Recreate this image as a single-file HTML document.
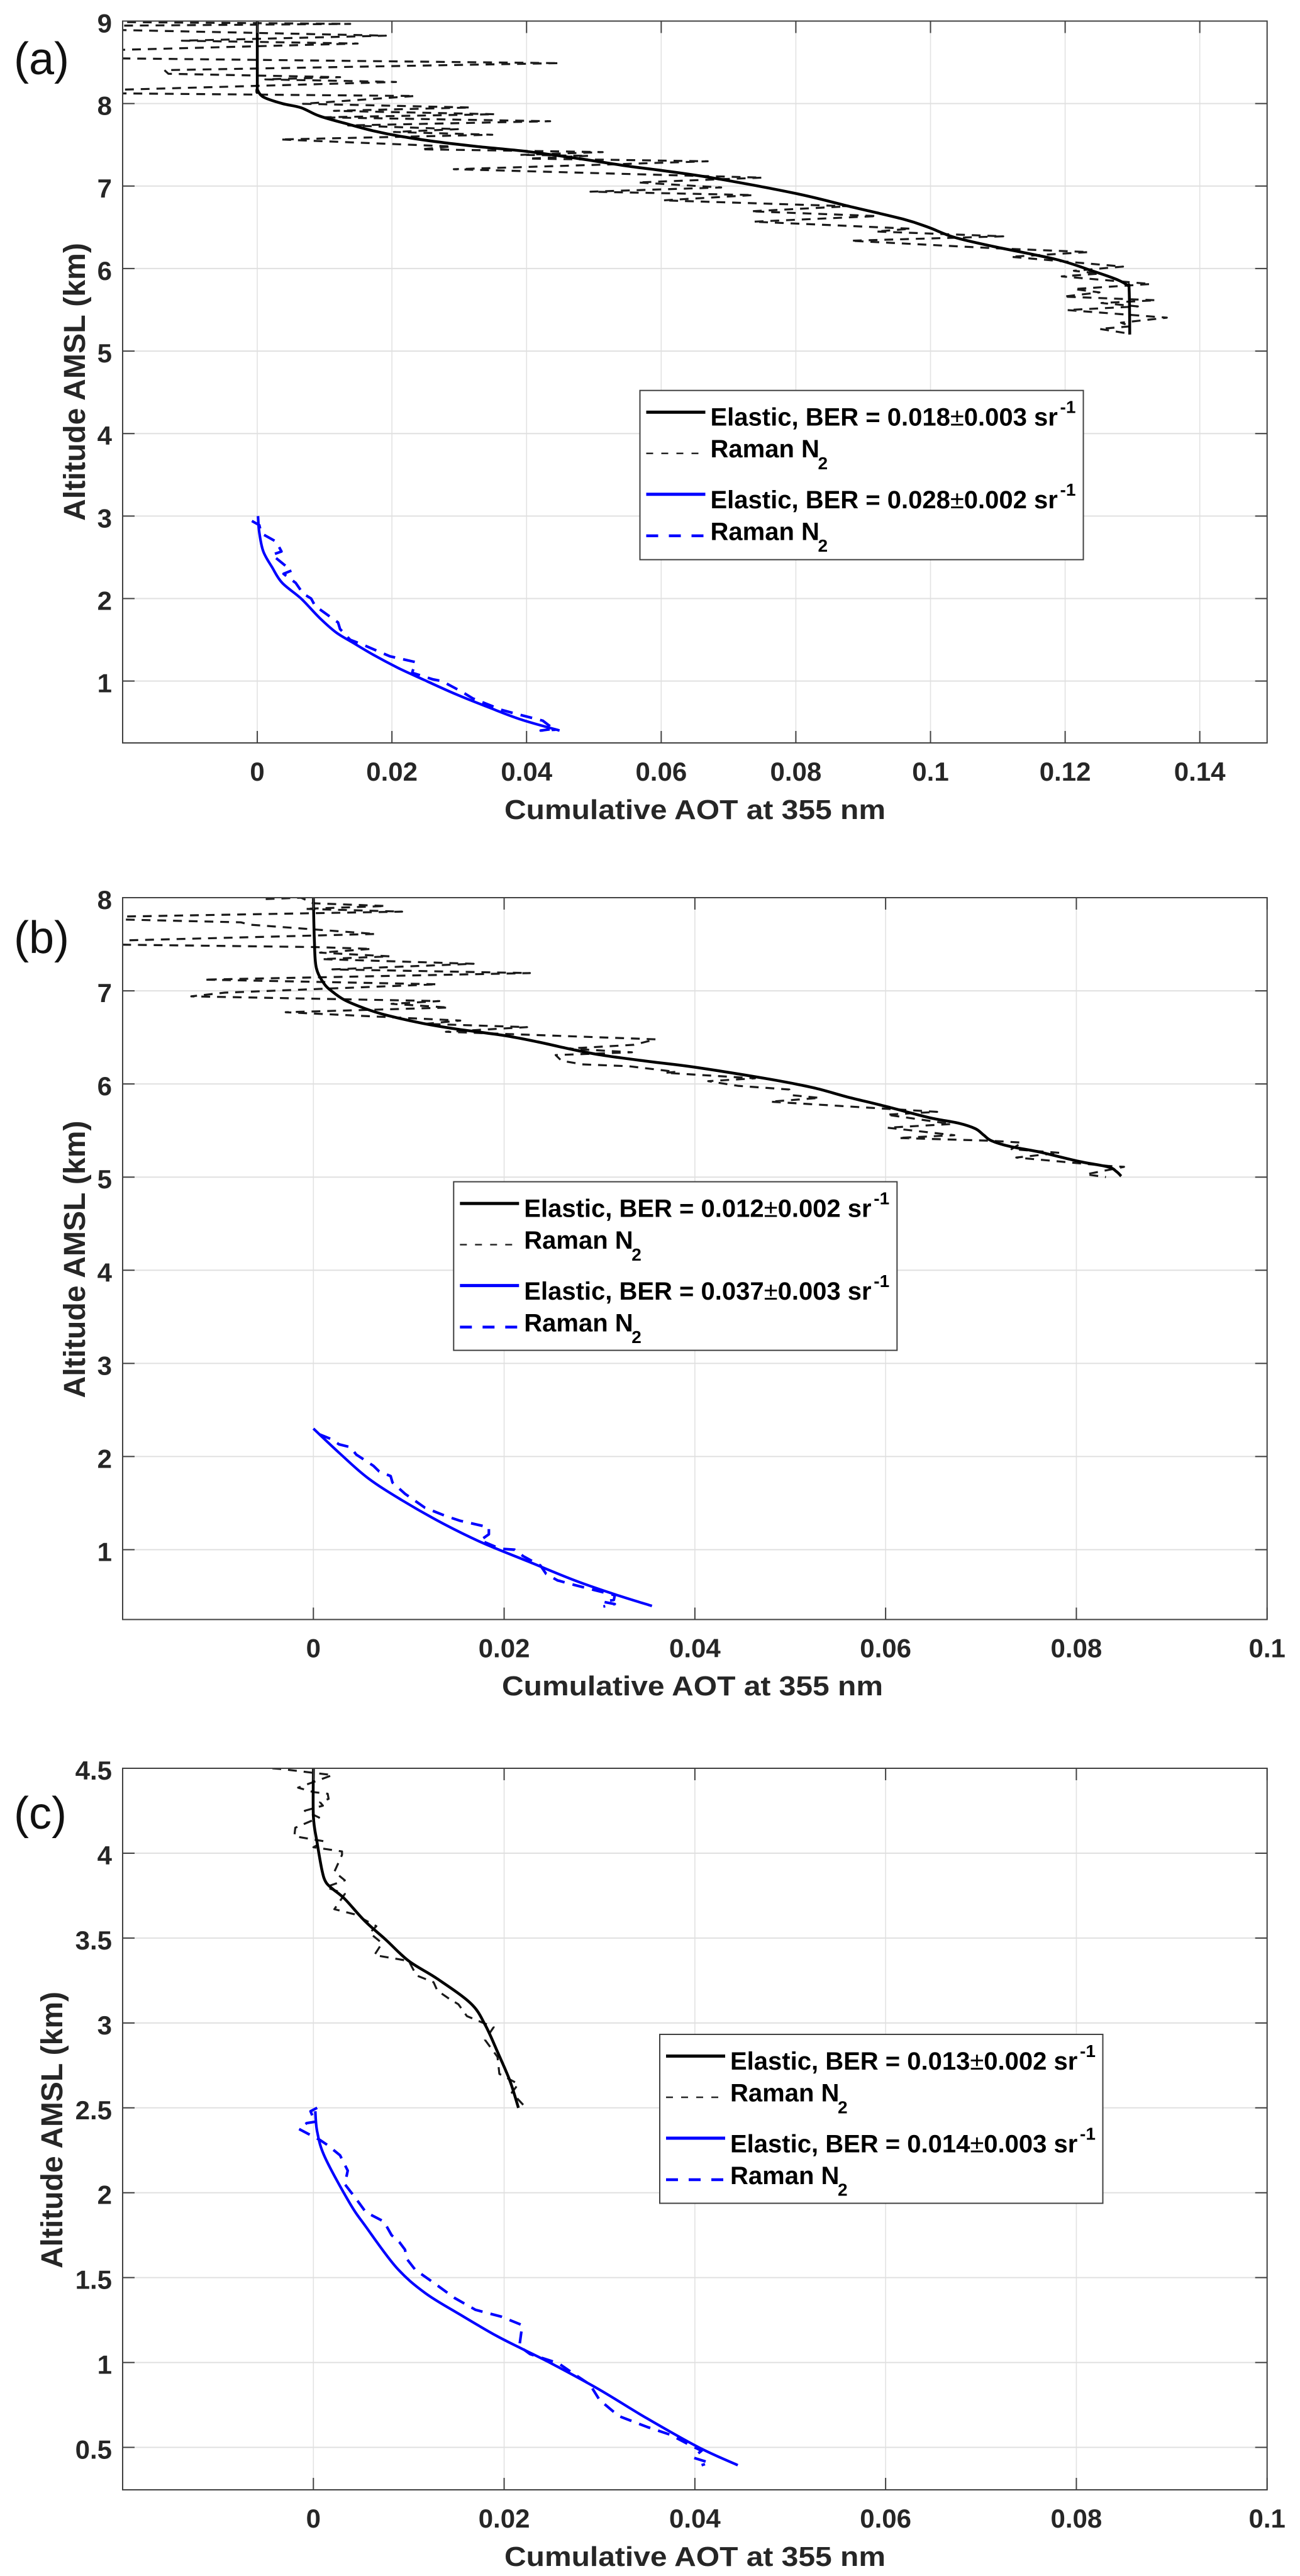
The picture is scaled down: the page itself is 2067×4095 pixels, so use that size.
<!DOCTYPE html>
<html lang="en">
<head>
<meta charset="utf-8">
<title>Cumulative AOT at 355 nm profiles</title>
<style>
html,body{margin:0;padding:0;background:#fff;}
svg{display:block;font-family:"Liberation Sans",Arial,sans-serif;}
.lg{font-size:40px;font-weight:700;fill:#000;}
.sub{font-size:28px;font-weight:700;fill:#000;}
.pm{font-weight:400;}
.xl{font-size:44px;font-weight:700;fill:#262626;}
.yl{font-size:48px;font-weight:700;fill:#262626;}
.pl{font-size:72px;font-weight:400;fill:#111;}
.tk{font-size:42px;font-weight:700;fill:#262626;}
</style>
</head>
<body>
<svg id="figure" xmlns="http://www.w3.org/2000/svg" width="2067" height="4095" viewBox="0 0 2067 4095">
<rect width="2067" height="4095" fill="#fff"/>
<defs>
<clipPath id="clip-a"><rect x="195" y="33.5" width="1820" height="1147.5"/></clipPath>
<clipPath id="clip-b"><rect x="195" y="1427" width="1820" height="1147.5"/></clipPath>
<clipPath id="clip-c"><rect x="195" y="2811" width="1820" height="1147"/></clipPath>
</defs>

<g id="panel-a">
<g id="layer-a"></g>
<text class="pl" x="22" y="118">(a)</text>
<text class="xl" x="1105" y="1302" text-anchor="middle" textLength="606" lengthAdjust="spacingAndGlyphs">Cumulative AOT at 355 nm</text>
<text class="yl" transform="translate(135,607) rotate(-90)" text-anchor="middle" textLength="442" lengthAdjust="spacingAndGlyphs">Altitude AMSL (km)</text>
<g transform="translate(1017.5,620.7)">
<rect x="0" y="0" width="705" height="269" fill="#fff" stroke="#404040" stroke-width="2"/>
<line x1="10" x2="104" y1="34.5" y2="34.5" stroke="#000" stroke-width="5"/>
<text class="lg" x="112" y="56">Elastic, BER = 0.018<tspan class="pm">±</tspan>0.003 sr</text>
<text class="sub" x="668" y="36">-1</text>
<line x1="10" x2="98" y1="100" y2="100" stroke="#262626" stroke-width="2.5" stroke-dasharray="11 13"/>
<text class="lg" x="112" y="106.5">Raman N</text>
<text class="sub" x="283" y="125.5">2</text>
<line x1="10" x2="104" y1="165" y2="165" stroke="#0000ff" stroke-width="5"/>
<text class="lg" x="112" y="187.5">Elastic, BER = 0.028<tspan class="pm">±</tspan>0.002 sr</text>
<text class="sub" x="668" y="167.5">-1</text>
<line x1="10" x2="102" y1="231" y2="231" stroke="#0000ff" stroke-width="4.5" stroke-dasharray="19 17"/>
<text class="lg" x="112" y="238">Raman N</text>
<text class="sub" x="283" y="256.5">2</text>
</g>
</g>

<g id="panel-b">
<g id="layer-b"></g>
<text class="pl" x="22" y="1515">(b)</text>
<text class="xl" x="1101" y="2695" text-anchor="middle" textLength="606" lengthAdjust="spacingAndGlyphs">Cumulative AOT at 355 nm</text>
<text class="yl" transform="translate(135,2002) rotate(-90)" text-anchor="middle" textLength="441" lengthAdjust="spacingAndGlyphs">Altitude AMSL (km)</text>
<g transform="translate(721.3,1878.6)">
<rect x="0" y="0" width="705" height="268" fill="#fff" stroke="#404040" stroke-width="2"/>
<line x1="10" x2="104" y1="34.5" y2="34.5" stroke="#000" stroke-width="5"/>
<text class="lg" x="112" y="56">Elastic, BER = 0.012<tspan class="pm">±</tspan>0.002 sr</text>
<text class="sub" x="668" y="36">-1</text>
<line x1="10" x2="98" y1="100" y2="100" stroke="#262626" stroke-width="2.5" stroke-dasharray="11 13"/>
<text class="lg" x="112" y="106.5">Raman N</text>
<text class="sub" x="283" y="125.5">2</text>
<line x1="10" x2="104" y1="165" y2="165" stroke="#0000ff" stroke-width="5"/>
<text class="lg" x="112" y="187.5">Elastic, BER = 0.037<tspan class="pm">±</tspan>0.003 sr</text>
<text class="sub" x="668" y="167.5">-1</text>
<line x1="10" x2="102" y1="231" y2="231" stroke="#0000ff" stroke-width="4.5" stroke-dasharray="19 17"/>
<text class="lg" x="112" y="238">Raman N</text>
<text class="sub" x="283" y="256.5">2</text>
</g>
</g>

<g id="panel-c">
<g id="layer-c"></g>
<text class="pl" x="22" y="2907">(c)</text>
<text class="xl" x="1105" y="4079" text-anchor="middle" textLength="606" lengthAdjust="spacingAndGlyphs">Cumulative AOT at 355 nm</text>
<text class="yl" transform="translate(99,3386) rotate(-90)" text-anchor="middle" textLength="440" lengthAdjust="spacingAndGlyphs">Altitude AMSL (km)</text>
<g transform="translate(1049,3234)">
<rect x="0" y="0" width="704.5" height="268.5" fill="#fff" stroke="#404040" stroke-width="2"/>
<line x1="10" x2="104" y1="34.5" y2="34.5" stroke="#000" stroke-width="5"/>
<text class="lg" x="112" y="56">Elastic, BER = 0.013<tspan class="pm">±</tspan>0.002 sr</text>
<text class="sub" x="668" y="36">-1</text>
<line x1="10" x2="98" y1="100" y2="100" stroke="#262626" stroke-width="2.5" stroke-dasharray="11 13"/>
<text class="lg" x="112" y="106.5">Raman N</text>
<text class="sub" x="283" y="125.5">2</text>
<line x1="10" x2="104" y1="165" y2="165" stroke="#0000ff" stroke-width="5"/>
<text class="lg" x="112" y="187.5">Elastic, BER = 0.014<tspan class="pm">±</tspan>0.003 sr</text>
<text class="sub" x="668" y="167.5">-1</text>
<line x1="10" x2="102" y1="231" y2="231" stroke="#0000ff" stroke-width="4.5" stroke-dasharray="19 17"/>
<text class="lg" x="112" y="238">Raman N</text>
<text class="sub" x="283" y="256.5">2</text>
</g>
</g>
</svg>

<script>
// Tick labels
const aXTicks = ["0","0.02","0.04","0.06","0.08","0.1","0.12","0.14"];
const aYTicks = ["1","2","3","4","5","6","7","8","9"];
const bXTicks = ["0","0.02","0.04","0.06","0.08","0.1"];
const bYTicks = ["1","2","3","4","5","6","7","8"];
const cXTicks = ["0","0.02","0.04","0.06","0.08","0.1"];
const cYTicks = ["0.5","1","1.5","2","2.5","3","3.5","4","4.5"];

// Panel (a) series: [cumulative AOT, altitude km]
const aElasticBlack = [[0,9],[0,8.2],[0,8.17],[.0009,8.08],[.0037,8],[.0065,7.95],[.0092,7.85],[.0135,7.75],[.0172,7.67],[.0215,7.6],[.0264,7.54],[.0326,7.48],[.04,7.42],[.048,7.33],[.0552,7.24],[.06,7.19],[.0679,7.095],[.08,6.91],[.0879,6.755],[.0959,6.6],[.0997,6.5],[.1035,6.38],[.1092,6.27],[.1187,6.11],[.1241,5.97],[.1276,5.87],[.1292,5.8],[.1295,5.75],[.1296,5.2]];
const aRamanBlack = [[-.024,8.99],[.0138,8.966],[-.024,8.942],[-.024,8.898],[.0191,8.823],[-.0112,8.762],[.0149,8.728],[-.024,8.643],[-.024,8.551],[.0449,8.49],[-.0138,8.405],[-.0132,8.361],[.0123,8.32],[.0012,8.293],[.0206,8.262],[-.024,8.16],[-.024,8.126],[.0234,8.092],[.0068,7.997],[.0317,7.952],[.0114,7.912],[.0353,7.871],[.0095,7.833],[.0435,7.786],[.0135,7.735],[.0298,7.69],[.0203,7.656],[.0349,7.622],[.0034,7.565],[.0289,7.48],[.0243,7.446],[.0513,7.412],[.039,7.378],[.0492,7.367],[.0403,7.333],[.0669,7.3],[.051,7.259],[.0292,7.204],[.075,7.102],[.0565,7.044],[.0689,6.983],[.0495,6.932],[.0737,6.891],[.0603,6.827],[.0879,6.755],[.0733,6.694],[.0921,6.636],[.0737,6.568],[.0971,6.483],[.0919,6.449],[.1108,6.391],[.0881,6.337],[.1098,6.245],[.1235,6.2],[.1119,6.143],[.1286,6.024],[.1213,5.973],[.1251,5.939],[.1195,5.905],[.1327,5.813],[.1213,5.752],[.1251,5.711],[.1197,5.66],[.1335,5.616],[.1254,5.582],[.1308,5.541],[.1203,5.497],[.1351,5.405],[.1283,5.344],[.1298,5.3],[.1251,5.269],[.1298,5.207]];
const aElasticBlue = [[.0001,3],[.0003,2.8],[.0009,2.57],[.0022,2.38],[.0037,2.19],[.0065,2],[.0092,1.77],[.0117,1.59],[.0141,1.47],[.0172,1.32],[.0209,1.16],[.0246,1.02],[.0295,.84],[.0344,.68],[.0393,.53],[.0449,.4]];
const aRamanBlue = [[-.0008,2.94],[.0003,2.89],[.0006,2.79],[.0028,2.69],[.0036,2.57],[.0022,2.53],[.004,2.41],[.0051,2.34],[.0039,2.3],[.0057,2.19],[.0068,2.06],[.008,2],[.0086,1.91],[.012,1.71],[.0123,1.63],[.0138,1.5],[.0154,1.45],[.0197,1.3],[.0235,1.23],[.023,1.1],[.0261,1.02],[.0274,1],[.0304,.87],[.032,.79],[.0363,.65],[.0381,.61],[.0424,.52],[.044,.42],[.0421,.4],[.0443,.41]];

// Panel (b) series
const bElasticBlack = [[0,8],[.0001,7.55],[.0003,7.25],[.0011,7.08],[.002,6.99],[.0033,6.9],[.0054,6.81],[.0076,6.74],[.0115,6.65],[.015,6.59],[.02,6.52],[.0236,6.45],[.0267,6.38],[.0302,6.31],[.0353,6.24],[.04,6.18],[.0479,6.05],[.0524,5.96],[.056,5.86],[.06,5.76],[.0645,5.64],[.0676,5.58],[.0694,5.52],[.0703,5.45],[.0711,5.39],[.073,5.33],[.0761,5.27],[.0802,5.17],[.0833,5.11],[.0842,5.06],[.0847,5.01]];
const bRamanBlack = [[-.005,7.985],[-.0013,8],[0,7.94],[.0076,7.91],[-.0009,7.88],[.0093,7.85],[-.024,7.79],[-.024,7.775],[-.0076,7.735],[-.0067,7.71],[.0065,7.61],[-.024,7.53],[-.024,7.5],[0,7.47],[.0061,7.45],[.0007,7.41],[.008,7.37],[.0009,7.34],[.0168,7.29],[.002,7.23],[.0227,7.19],[-.0115,7.12],[.013,7.07],[-.0093,6.98],[-.0128,6.94],[.0132,6.89],[.0082,6.86],[.0142,6.82],[-.0029,6.77],[.0154,6.68],[.0117,6.645],[.0224,6.61],[.0139,6.56],[.0359,6.479],[.0336,6.42],[.0267,6.38],[.0334,6.34],[.0254,6.31],[.026,6.25],[.0282,6.21],[.0331,6.19],[.038,6.13],[.0369,6.12],[.0463,6.06],[.0414,6.03],[.0445,5.98],[.0499,5.94],[.0501,5.88],[.0531,5.85],[.0479,5.81],[.0654,5.7],[.0601,5.67],[.0669,5.57],[.0602,5.53],[.0672,5.45],[.0613,5.42],[.071,5.39],[.0743,5.37],[.0732,5.3],[.0783,5.26],[.0737,5.21],[.0833,5.12],[.085,5.11],[.081,5.03],[.0831,5]];
const bElasticBlue = [[0,2.3],[.0027,2.04],[.0057,1.77],[.0093,1.53],[.0136,1.28],[.0178,1.07],[.0226,.87],[.0274,.67],[.0316,.52],[.0355,.395]];
const bRamanBlue = [[.0006,2.24],[.0018,2.19],[.0027,2.13],[.0039,2.1],[.0045,2.02],[.0051,1.98],[.0063,1.9],[.0069,1.84],[.0081,1.79],[.0083,1.72],[.0096,1.6],[.0117,1.45],[.0139,1.36],[.0154,1.31],[.0184,1.24],[.0184,1.165],[.0175,1.1],[.0196,1.01],[.0211,1],[.022,.93],[.0238,.83],[.0244,.74],[.0256,.67],[.0274,.62],[.0301,.55],[.0316,.51],[.0315,.46],[.0304,.44],[.0316,.416],[.0304,.39]];

// Panel (c) series
const cElasticBlack = [[0,4.5],[0,4.215],[.0004,4.06],[.0009,3.9],[.0013,3.83],[.002,3.79],[.0033,3.73],[.0054,3.6],[.0076,3.49],[.01,3.365],[.013,3.26],[.0165,3.115],[.018,2.99],[.0193,2.83],[.0206,2.66],[.0215,2.5]];
const cRamanBlack = [[-.0043,4.5],[-.0033,4.495],[.002,4.46],[-.0016,4.386],[0,4.36],[.0015,4.35],[.0016,4.32],[.0007,4.3],[.001,4.28],[-.0009,4.25],[.0006,4.21],[-.0019,4.15],[-.002,4.1],[.0011,4.07],[0,4.035],[.003,4.01],[.003,3.99],[.0022,3.89],[.0033,3.84],[.0013,3.8],[.0033,3.76],[.0022,3.67],[.0043,3.64],[.0066,3.57],[.0059,3.53],[.0072,3.47],[.0064,3.4],[.01,3.365],[.0108,3.28],[.0126,3.24],[.013,3.19],[.0143,3.14],[.0152,3.11],[.0161,3.04],[.0189,2.975],[.018,2.9],[.0193,2.8],[.0195,2.7],[.0215,2.64],[.0208,2.59],[.0223,2.5]];
const cElasticBlue = [[.0002,2.48],[.0004,2.36],[.0012,2.21],[.0038,1.94],[.0055,1.8],[.0087,1.56],[.0117,1.41],[.0153,1.285],[.0191,1.16],[.0219,1.08],[.0251,.99],[.03,.84],[.035,.67],[.0404,.5],[.0445,.395]];
const cRamanBlue = [[.0004,2.5],[-.0003,2.48],[0,2.44],[.0004,2.42],[-.0007,2.41],[-.0015,2.375],[.0007,2.31],[.0015,2.28],[.0028,2.22],[.0036,2.13],[.0033,2.05],[.0044,1.97],[.0055,1.885],[.0074,1.83],[.0082,1.75],[.009,1.71],[.0096,1.665],[.0098,1.61],[.0107,1.545],[.0126,1.47],[.0148,1.38],[.017,1.31],[.0197,1.27],[.0219,1.22],[.0216,1.095],[.0227,1.05],[.0257,.995],[.027,.945],[.029,.87],[.03,.78],[.032,.685],[.035,.62],[.0374,.575],[.0396,.51],[.0407,.48],[.0398,.44],[.0415,.41],[.0407,.395]];

const NS = "http://www.w3.org/2000/svg";
function mk(parent, tag, attrs) {
  const e = document.createElementNS(NS, tag);
  for (const k in attrs) e.setAttribute(k, attrs[k]);
  parent.appendChild(e);
  return e;
}

// Straight segments for the noisy Raman traces
function polyPath(pts) {
  return pts.map((p, i) => (i ? "L" : "M") + p[0].toFixed(1) + " " + p[1].toFixed(1)).join("");
}

// Smooth Catmull-Rom curve through the read points for the elastic traces
function smoothPath(pts) {
  let d = "M" + pts[0][0].toFixed(1) + " " + pts[0][1].toFixed(1);
  for (let i = 0; i < pts.length - 1; i++) {
    const p0 = pts[Math.max(i - 1, 0)];
    const p1 = pts[i];
    const p2 = pts[i + 1];
    const p3 = pts[Math.min(i + 2, pts.length - 1)];
    const c1x = p1[0] + (p2[0] - p0[0]) / 6;
    const c1y = p1[1] + (p2[1] - p0[1]) / 6;
    const c2x = p2[0] - (p3[0] - p1[0]) / 6;
    const c2y = p2[1] - (p3[1] - p1[1]) / 6;
    d += "C" + c1x.toFixed(1) + " " + c1y.toFixed(1) + " " + c2x.toFixed(1) + " " + c2y.toFixed(1) + " " + p2[0].toFixed(1) + " " + p2[1].toFixed(1);
  }
  return d;
}

function drawPanel(id, box, xLim, yLim, xTicks, yTicks, series) {
  const layer = document.getElementById("layer-" + id);
  const xs = v => box.l + (v - xLim[0]) / (xLim[1] - xLim[0]) * (box.r - box.l);
  const ys = v => box.b - (v - yLim[0]) / (yLim[1] - yLim[0]) * (box.b - box.t);

  xTicks.forEach(lab => {
    const px = xs(parseFloat(lab));
    const g = mk(layer, "line", {x1: px, x2: px, y1: box.t, y2: box.b, stroke: "#e2e2e2", "stroke-width": 1.6});
    
    
  });
  yTicks.forEach(lab => {
    const py = ys(parseFloat(lab));
    const g = mk(layer, "line", {x1: box.l, x2: box.r, y1: py, y2: py, stroke: "#e0e0e0", "stroke-width": 2});
    
    
  });

  const seriesGroup = mk(layer, "g", {"clip-path": "url(#clip-" + id + ")"});
  
  
  series.forEach(s => {
    const pts = s.data.map(p => [xs(p[0]), ys(p[1])]);
    const d = s.dash ? polyPath(pts) : smoothPath(pts);
    const path = mk(seriesGroup, "path", {d: d, fill: "none", stroke: s.color, "stroke-width": s.width, "stroke-dasharray": s.dash || "none", "stroke-linejoin": "round"});
    
    
  });

  const frame = mk(layer, "rect", {x: box.l, y: box.t, width: box.r - box.l, height: box.b - box.t, fill: "none", stroke: "#404040", "stroke-width": 2});
  
  

  xTicks.forEach(lab => {
    const px = xs(parseFloat(lab));
    const t1 = mk(layer, "line", {x1: px, x2: px, y1: box.b, y2: box.b - 19, stroke: "#404040", "stroke-width": 2});
    
    
    const t2 = mk(layer, "line", {x1: px, x2: px, y1: box.t, y2: box.t + 19, stroke: "#404040", "stroke-width": 2});
    
    
    const tx = mk(layer, "text", {x: px, y: box.b + 60, "text-anchor": "middle", class: "tk"});
    tx.textContent = lab;
    
    
  });
  yTicks.forEach(lab => {
    const py = ys(parseFloat(lab));
    const t1 = mk(layer, "line", {x1: box.l, x2: box.l + 19, y1: py, y2: py, stroke: "#404040", "stroke-width": 2});
    
    
    const t2 = mk(layer, "line", {x1: box.r, x2: box.r - 19, y1: py, y2: py, stroke: "#404040", "stroke-width": 2});
    
    
    const tx = mk(layer, "text", {x: 178, y: py + 18, "text-anchor": "end", class: "tk"});
    tx.textContent = lab;
    
    
  });
}

const blackDash = "14 11";
const blueDash = "19 13";

drawPanel("a", {l:195, r:2014.7, t:33.5, b:1181}, [-0.02,0.15], [0.25,9], aXTicks, aYTicks, [
  {name:"raman-black-line", data:aRamanBlack, color:"#1a1a1a", width:3.2, dash:blackDash},
  {name:"elastic-black-line", data:aElasticBlack, color:"#000", width:4.5},
  {name:"raman-blue-line", data:aRamanBlue, color:"#0000ff", width:4.2, dash:blueDash},
  {name:"elastic-blue-line", data:aElasticBlue, color:"#0000ff", width:4.2}
]);
drawPanel("b", {l:195, r:2014.7, t:1427, b:2574.5}, [-0.02,0.1], [0.25,8], bXTicks, bYTicks, [
  {name:"raman-black-line", data:bRamanBlack, color:"#1a1a1a", width:3.2, dash:blackDash},
  {name:"elastic-black-line", data:bElasticBlack, color:"#000", width:4.5},
  {name:"raman-blue-line", data:bRamanBlue, color:"#0000ff", width:4.2, dash:blueDash},
  {name:"elastic-blue-line", data:bElasticBlue, color:"#0000ff", width:4.2}
]);
drawPanel("c", {l:195, r:2014.7, t:2811, b:3958}, [-0.02,0.1], [0.25,4.5], cXTicks, cYTicks, [
  {name:"raman-black-line", data:cRamanBlack, color:"#1a1a1a", width:3.2, dash:blackDash},
  {name:"elastic-black-line", data:cElasticBlack, color:"#000", width:4.5},
  {name:"raman-blue-line", data:cRamanBlue, color:"#0000ff", width:4.2, dash:blueDash},
  {name:"elastic-blue-line", data:cElasticBlue, color:"#0000ff", width:4.2}
]);
</script>
</body>
</html>
